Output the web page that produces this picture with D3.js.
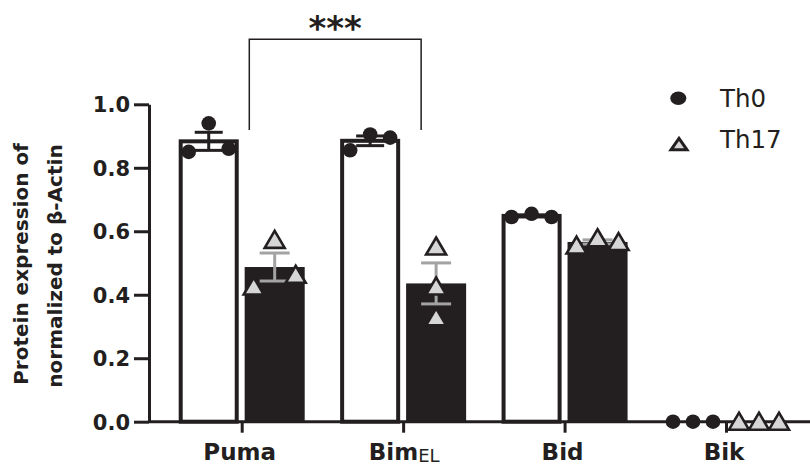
<!DOCTYPE html>
<html><head><meta charset="utf-8">
<script src="https://cdn.jsdelivr.net/npm/d3@7"></script>
<style>body{margin:0;background:#fff}svg{display:block}</style>
</head><body><svg id="c" width="810" height="466"></svg>
<script>
// ---- data ----
const categories = ["Puma","BimEL","Bid","Bik"];
const categoryMain = ["Puma","Bim","Bid","Bik"];
const categorySub = ["","EL","",""];
const groups = ["Th0","Th17"];
const th0Values = [[0.85,0.94,0.86],[0.855,0.905,0.895],[0.645,0.655,0.645],[0,0,0]];
const th17Values = [[0.426,0.573,0.463],[0.552,0.426,0.329],[0.555,0.578,0.566],[0,0,0]];
const yTicks = [0,0.2,0.4,0.6,0.8,1.0];
const yTitle = ["Protein expression of","normalized to β-Actin"];
const sigLabel = "***";
const sigPair = ["Puma","BimEL"];

// ---- layout / styles ----
const ink = "#231f20", grayBar = "#a3a3a3", triFill = "#d6d6d6";
const font = "'DejaVu Sans', sans-serif";
// horizontal scatter of replicate points (layout only)
const spreadTh0 = [[-20,0,20],[-20,0,20],[-20,0,20],[-20,0,20]];
const spreadTh17 = [[-21,0,21],[0,0,0],[-21,0,21],[-20,0,20]];

const svg = d3.select("#c");
const y = d3.scaleLinear().domain([0,1]).range([421.7,104.3]);
const x = d3.scalePoint().domain(categories).range([241.7,726]);
const xSub = d3.scaleBand().domain(groups).range([-63,63]).paddingInner(0.09);
const bw = xSub.bandwidth();

function stats(v){
  const m = d3.mean(v);
  const sd = v.length>1 ? d3.deviation(v) : 0;
  return {mean:m, sem: sd/Math.sqrt(v.length)};
}
const rows = [];
categories.forEach((c,i)=>{
  rows.push({cat:c, g:"Th0", vals:th0Values[i], off:spreadTh0[i], ...stats(th0Values[i])});
  rows.push({cat:c, g:"Th17", vals:th17Values[i], off:spreadTh17[i], ...stats(th17Values[i])});
});

// bars
rows.forEach(r=>{
  const x0 = x(r.cat)+xSub(r.g);
  if(r.g==="Th0"){
    svg.append("rect").attr("x",x0+2).attr("width",bw-4)
      .attr("y",y(r.mean)).attr("height",y(0)-y(r.mean))
      .attr("fill","#fff").attr("stroke",ink).attr("stroke-width",4);
  } else {
    svg.append("rect").attr("x",x0).attr("width",bw)
      .attr("y",y(r.mean)).attr("height",y(0)-y(r.mean))
      .attr("fill",ink);
  }
});

// y axis
const yAxis = svg.append("g").attr("transform","translate(149,0)")
  .call(d3.axisLeft(y).tickValues(yTicks).tickFormat(d3.format(".1f")).tickSize(15).tickSizeOuter(0).tickPadding(4));
yAxis.select(".domain").attr("stroke",ink).attr("stroke-width",3);
yAxis.selectAll(".tick line").attr("stroke",ink).attr("stroke-width",3);
yAxis.selectAll(".tick text").attr("fill",ink).attr("font-family",font)
  .attr("font-weight","bold").attr("font-size",21).attr("dy","0.36em");

// x axis
const xAxis = svg.append("g").attr("transform",`translate(0,${y(0)})`)
  .call(d3.axisBottom(x).tickSize(11).tickSizeOuter(0).tickFormat(""));
xAxis.select(".domain").attr("d","M149,0H810").attr("stroke",ink).attr("stroke-width",3);
xAxis.selectAll(".tick line").attr("stroke",ink).attr("stroke-width",3);

// category labels
categories.forEach((c,i)=>{
  const t = svg.append("text").attr("x",x(c)+(categorySub[i]?1:-2)).attr("y",460)
    .attr("text-anchor","middle").attr("font-family",font).attr("font-weight","bold")
    .attr("font-size",23).attr("fill",ink);
  t.append("tspan").text(categoryMain[i]);
  if(categorySub[i]) t.append("tspan").attr("font-weight","normal").attr("font-size",18)
    .attr("dy",1.5).text(categorySub[i]);
});

// error bars
rows.forEach(r=>{
  const cx = x(r.cat)+xSub(r.g)+bw/2;
  const col = r.g==="Th0"?ink:grayBar;
  const hw = r.g==="Th0"?14:15;
  if(r.sem<=0) return;
  const g = svg.append("g").attr("stroke",col).attr("stroke-width",3);
  g.append("line").attr("x1",cx).attr("x2",cx).attr("y1",y(r.mean+r.sem)).attr("y2",y(r.mean-r.sem));
  g.append("line").attr("x1",cx-hw).attr("x2",cx+hw).attr("y1",y(r.mean+r.sem)).attr("y2",y(r.mean+r.sem));
  g.append("line").attr("x1",cx-hw).attr("x2",cx+hw).attr("y1",y(r.mean-r.sem)).attr("y2",y(r.mean-r.sem));
});

// points
const triPath = "M0,-9L10,8L-10,8Z";
rows.forEach(r=>{
  const cx = x(r.cat)+xSub(r.g)+bw/2;
  r.vals.forEach((v,j)=>{
    if(r.g==="Th0"){
      svg.append("circle").attr("cx",cx+r.off[j]).attr("cy",y(v)).attr("r",7.3).attr("fill",ink);
    } else {
      svg.append("path").attr("d",triPath).attr("transform",`translate(${cx+r.off[j]},${y(v)})`)
        .attr("fill",triFill).attr("stroke",ink).attr("stroke-width",2.6).attr("stroke-linejoin","miter");
    }
  });
});

// y title
yTitle.forEach((t,i)=>{
  svg.append("text").attr("transform",`translate(${i===0?28:62},${i===0?264:266}) rotate(-90)`)
    .attr("text-anchor","middle").attr("font-family",font).attr("font-weight","bold")
    .attr("font-size",20).attr("fill",ink).text(t);
});

// significance bracket
const bx1 = x(sigPair[0])+7.6, bx2 = x(sigPair[1])+18;
svg.append("path").attr("d",`M${bx1},130V39.3H${bx2}V130`).attr("fill","none")
  .attr("stroke",ink).attr("stroke-width",1.5);
svg.append("text").attr("x",(bx1+bx2)/2).attr("y",40).attr("text-anchor","middle")
  .attr("font-family",font).attr("font-weight","bold").attr("font-size",34).attr("fill",ink).text(sigLabel);

// legend
svg.append("ellipse").attr("cx",678.3).attr("cy",98.3).attr("rx",8).attr("ry",6.8).attr("fill",ink);
svg.append("path").attr("d","M0,-6L8,5.5L-8,5.5Z").attr("transform","translate(679,144.3)")
  .attr("fill",triFill).attr("stroke",ink).attr("stroke-width",3);
groups.forEach((g,i)=>{
  svg.append("text").attr("x",720).attr("y",i===0?106.7:148.3).attr("font-family",font)
    .attr("font-size",24.5).attr("fill",ink).text(g);
});
</script></body></html>
